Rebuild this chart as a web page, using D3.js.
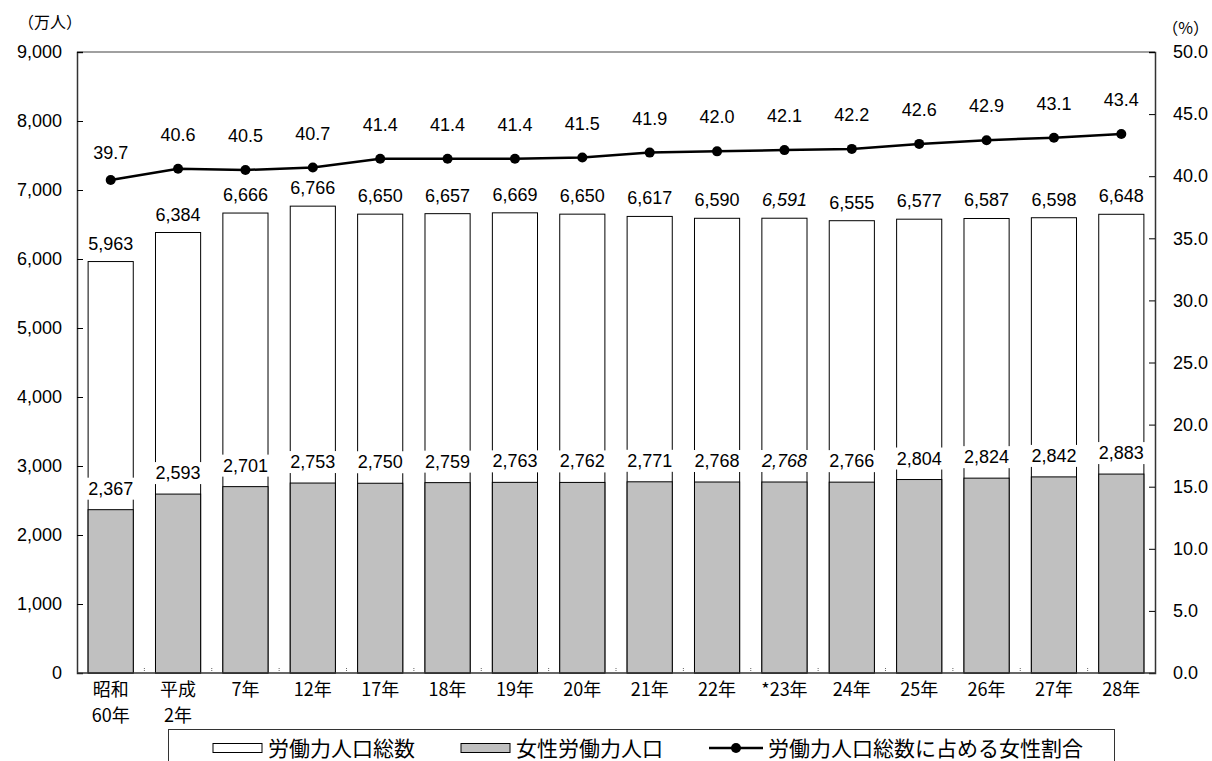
<!DOCTYPE html>
<html>
<head>
<meta charset="utf-8">
<script src="https://cdn.jsdelivr.net/npm/d3@7"></script>
<style>
  body { margin: 0; background: #fff; }
  text { font-family: "Liberation Sans", Arial, "Noto Sans CJK JP", sans-serif; fill: #000; }
  .jp { font-family: "Noto Sans CJK JP", sans-serif; }
</style>
</head>
<body>
<svg id="chart" width="1212" height="761"></svg>
<script>
// 労働力人口の推移
var categories = ["昭和\n60年", "平成\n2年", "7年", "12年", "17年", "18年", "19年", "20年",
    "21年", "22年", "*23年", "24年", "25年", "26年", "27年", "28年"];
var totalPop = [5963, 6384, 6666, 6766, 6650, 6657, 6669, 6650, 6617, 6590, 6591, 6555, 6577, 6587, 6598, 6648];
var femalePop = [2367, 2593, 2701, 2753, 2750, 2759, 2763, 2762, 2771, 2768, 2768, 2766, 2804, 2824, 2842, 2883];
var femaleRatio = [39.7, 40.6, 40.5, 40.7, 41.4, 41.4, 41.4, 41.5, 41.9, 42.0, 42.1, 42.2, 42.6, 42.9, 43.1, 43.4];
var italicCat = "*23年"; // estimated values shown in italics
var leftTicks = d3.range(0, 9001, 1000);
var rightTicks = d3.range(0, 50.1, 5);
var legendLabels = ["労働力人口総数", "女性労働力人口", "労働力人口総数に占める女性割合"];

var margin = { top: 52, right: 57, bottom: 88, left: 77 },
    width = 1212 - margin.left - margin.right,
    height = 761 - margin.top - margin.bottom;

var svg = d3.select("#chart");
var g = svg.append("g")
    .attr("transform", "translate(" + margin.left + "," + margin.top + ")");

var x = d3.scaleBand()
    .domain(categories)
    .range([0, width])
    .paddingInner(0.33)
    .paddingOuter(0.165);

var yL = d3.scaleLinear().domain([0, 9000]).range([height, 0]);
var yR = d3.scaleLinear().domain([0, 50]).range([height, 0]);
var fmt = d3.format(",");
var step = width / categories.length;

// frame top line
g.append("line")
    .attr("x1", 0).attr("x2", width)
    .attr("y1", 0).attr("y2", 0)
    .attr("stroke", "#808080").attr("stroke-width", 1.5);

// bars
g.selectAll("rect.total")
    .data(totalPop)
    .enter().append("rect")
    .attr("class", "total")
    .attr("x", function(d, i) { return x(categories[i]); })
    .attr("y", function(d) { return yL(d); })
    .attr("width", x.bandwidth())
    .attr("height", function(d) { return height - yL(d); })
    .attr("fill", "#fff")
    .attr("stroke", "#000")
    .attr("stroke-width", 1);

g.selectAll("rect.female")
    .data(femalePop)
    .enter().append("rect")
    .attr("class", "female")
    .attr("x", function(d, i) { return x(categories[i]); })
    .attr("y", function(d) { return yL(d); })
    .attr("width", x.bandwidth())
    .attr("height", function(d) { return height - yL(d); })
    .attr("fill", "#c0c0c0")
    .attr("stroke", "#000")
    .attr("stroke-width", 1);

// small dotted category ticks
g.selectAll("line.ctick")
    .data(d3.range(1, categories.length))
    .enter().append("line")
    .attr("class", "ctick")
    .attr("x1", function(d) { return d * step; })
    .attr("x2", function(d) { return d * step; })
    .attr("y1", height - 5).attr("y2", height - 1)
    .attr("stroke", "#666")
    .attr("stroke-dasharray", "1,1");

// axes
var leftAxis = g.append("g")
    .call(d3.axisLeft(yL).tickValues(leftTicks).tickSize(-6).tickPadding(15).tickFormat(fmt));
leftAxis.select(".domain").attr("stroke", "#333").attr("stroke-width", 1.5);
leftAxis.selectAll("text").style("font-size", "18px");

var rightAxis = g.append("g")
    .attr("transform", "translate(" + width + ",0)")
    .call(d3.axisRight(yR).tickValues(rightTicks).tickSize(-6).tickPadding(18).tickFormat(d3.format(".1f")));
rightAxis.select(".domain").attr("stroke", "#333").attr("stroke-width", 1.5);
rightAxis.selectAll("text").style("font-size", "18px");

g.append("line")
    .attr("x1", 0).attr("x2", width)
    .attr("y1", height).attr("y2", height)
    .attr("stroke", "#333").attr("stroke-width", 1.5);

// category labels (one text per line)
categories.forEach(function(c) {
    c.split("\n").forEach(function(part, j) {
        g.append("text")
            .attr("class", "cat jp")
            .attr("text-anchor", "middle")
            .attr("x", x(c) + x.bandwidth() / 2)
            .attr("y", height + 23 + j * 26)
            .style("font-size", "18px")
            .text(part);
    });
});

// ratio line
var line = d3.line()
    .x(function(d, i) { return x(categories[i]) + x.bandwidth() / 2; })
    .y(function(d) { return yR(d); });

g.append("path")
    .datum(femaleRatio)
    .attr("d", line)
    .attr("fill", "none")
    .attr("stroke", "#000")
    .attr("stroke-width", 2.5);

g.selectAll("circle.pt")
    .data(femaleRatio)
    .enter().append("circle")
    .attr("cx", function(d, i) { return x(categories[i]) + x.bandwidth() / 2; })
    .attr("cy", function(d) { return yR(d); })
    .attr("r", 5)
    .attr("fill", "#000");

// data labels with white boxes
function addLabels(values, scale, offset, format, italic) {
    var lab = g.append("g");
    values.forEach(function(v, i) {
        var off = typeof offset === "function" ? offset(i) : offset;
        var t = lab.append("text")
            .attr("x", x(categories[i]) + x.bandwidth() / 2)
            .attr("y", scale(v) - off)
            .attr("text-anchor", "middle")
            .style("font-size", "18px")
            .style("font-style", italic && categories[i] === italicCat ? "italic" : "normal")
            .text(format(v));
        var b = t.node().getBBox();
        lab.insert("rect", function() { return t.node(); })
            .attr("x", b.x - 2).attr("y", b.y - 1)
            .attr("width", b.width + 4).attr("height", b.height + 2)
            .attr("fill", "#fff");
    });
}
addLabels(totalPop, yL, 12, fmt, true);
addLabels(femalePop, yL, 15, fmt, true);
addLabels(femaleRatio, yR, function(i) { return i === 0 ? 21 : 28; }, d3.format(".1f"), false);

// unit labels
svg.append("text").attr("class", "jp").attr("x", 18).attr("y", 28)
    .style("font-size", "16px").text("（万人）");
svg.append("text").attr("class", "jp").attr("x", 1209).attr("y", 34)
    .attr("text-anchor", "end")
    .style("font-size", "16px").text("（%）");

// legend
var legend = svg.append("g");
legend.append("rect")
    .attr("x", 168.5).attr("y", 729.5)
    .attr("width", 946).attr("height", 40)
    .attr("fill", "#fff").attr("stroke", "#333");

var lx = 213;
legendLabels.forEach(function(name, i) {
    if (i < 2) {
        legend.append("rect")
            .attr("x", lx).attr("y", 743.5).attr("width", 49).attr("height", 9)
            .attr("fill", i === 0 ? "#fff" : "#c0c0c0")
            .attr("stroke", "#000");
    } else {
        legend.append("line")
            .attr("x1", lx).attr("x2", lx + 54).attr("y1", 748).attr("y2", 748)
            .attr("stroke", "#000").attr("stroke-width", 2.5);
        legend.append("circle").attr("cx", lx + 27).attr("cy", 748).attr("r", 5).attr("fill", "#000");
    }
    var t = legend.append("text")
        .attr("class", "jp")
        .attr("x", lx + (i < 2 ? 55 : 59))
        .attr("y", 756)
        .style("font-size", "21px")
        .text(name);
    lx = lx + (i < 2 ? 55 : 59) + t.node().getBBox().width + 46;
});
</script>
</body>
</html>
